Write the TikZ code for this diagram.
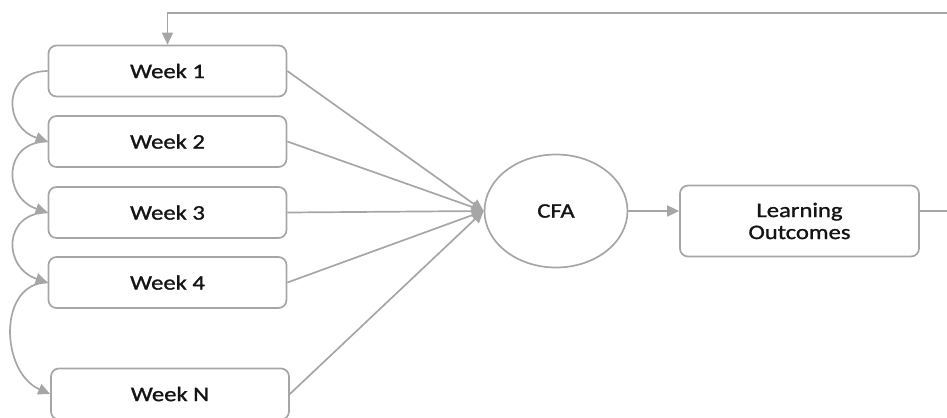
\documentclass[tikz,border=0pt]{standalone}
\usepackage{fontspec}
\setmainfont[FakeStretch=1.19,FakeBold=1.2]{Carlito}
\usetikzlibrary{arrows.meta,shapes.geometric}
\definecolor{linegray}{RGB}{166,166,166}
\definecolor{txt}{RGB}{20,20,20}
\begin{document}
\begin{tikzpicture}[x=1bp,y=-1bp,
  every node/.style={font=\fontsize{20.7bp}{22bp}\selectfont, text=txt},
  weekbox/.style={draw=linegray, line width=1.7bp, rounded corners=8bp,
    minimum width=238bp, minimum height=51bp, inner sep=0pt},
  conn/.style={draw=linegray, line width=1.7bp,
    -{Triangle[length=12bp,width=11bp]}, color=linegray}]
\path[use as bounding box] (0,0) rectangle (947,417);
\clip (0,0) rectangle (947,417);

\node[weekbox] (w1) at (167.5,71) {Week 1};
\node[weekbox] (w2) at (167.5,141.5) {Week 2};
\node[weekbox] (w3) at (167.5,212.5) {Week 3};
\node[weekbox] (w4) at (167.5,282.5) {Week 4};
\node[weekbox] (wn) at (170,394) {Week N};

\node[draw=linegray, line width=1.7bp, ellipse, minimum width=143bp,
  minimum height=113bp, inner sep=0pt] (cfa) at (556,211) {CFA};

\node[weekbox, minimum width=239bp, minimum height=71bp, align=center,
  font=\fontsize{20.7bp}{22bp}\selectfont] (lo) at (799.5,221) {Learning\\Outcomes};

% weeks to CFA
\foreach \w in {w1,w2,w3,w4,wn}{
  \draw[conn] (\w.east) -- (cfa.west);
}

% CFA to learning outcomes
\draw[conn] (cfa.east) -- (cfa.east -| lo.west);

% feedback loop
\coordinate (fbR) at (965,13);
\coordinate (fbL) at (167.5,13);
\draw[conn] (lo.east |- cfa.east) -- (fbR |- cfa.east) -- (fbR) -- (fbL) -- (w1.north);

% curved arrows between weeks
\draw[conn] (w1.west) .. controls +(-45,0) and +(-45,-15) .. (w2.west);
\draw[conn] (w2.west) .. controls +(-45,0) and +(-45,-15) .. (w3.west);
\draw[conn] (w3.west) .. controls +(-45,0) and +(-45,-15) .. (w4.west);
\draw[conn] (w4.west) .. controls +(-50,0) and +(-50,-22) .. (wn.west);
\end{tikzpicture}
\end{document}
